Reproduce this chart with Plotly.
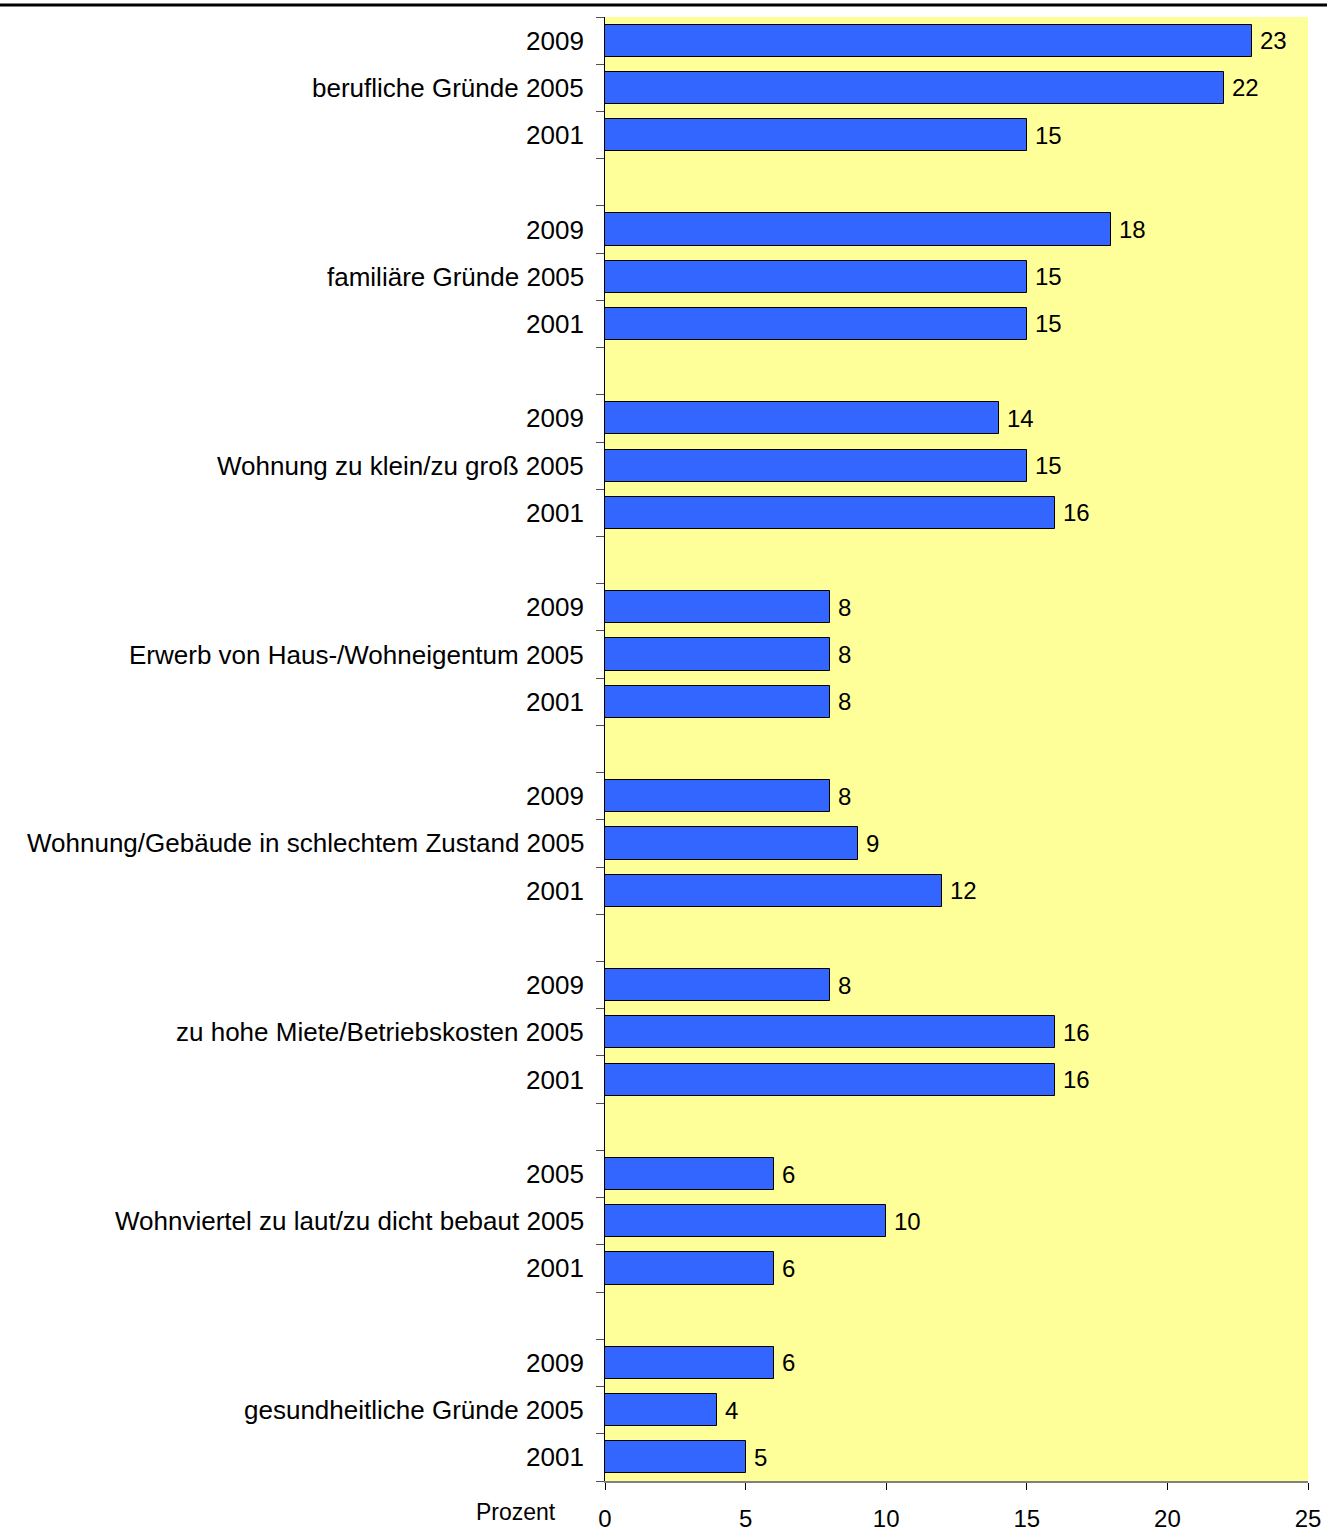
import plotly.graph_objects as go

# Reasons for moving, three survey years per reason (top bar first)
reasons = [
    "berufliche Gründe",
    "familiäre Gründe",
    "Wohnung zu klein/zu groß",
    "Erwerb von Haus-/Wohneigentum",
    "Wohnung/Gebäude in schlechtem Zustand",
    "zu hohe Miete/Betriebskosten",
    "Wohnviertel zu laut/zu dicht bebaut",
    "gesundheitliche Gründe",
]
year_labels = [
    ["2009", "2005", "2001"],
    ["2009", "2005", "2001"],
    ["2009", "2005", "2001"],
    ["2009", "2005", "2001"],
    ["2009", "2005", "2001"],
    ["2009", "2005", "2001"],
    ["2005", "2005", "2001"],
    ["2009", "2005", "2001"],
]
values = [
    [23, 22, 15],
    [18, 15, 15],
    [14, 15, 16],
    [8, 8, 8],
    [8, 9, 12],
    [8, 16, 16],
    [6, 10, 6],
    [6, 4, 5],
]
x_ticks = [0, 5, 10, 15, 20, 25]
axis_title = "Prozent"

W, H = 1327, 1533
ML, MR, MT, MB = 605, 19, 17, 52
FONT = "Liberation Sans, Arial, sans-serif"
FS_CAT = 26
FS_NUM = 24

# flatten: each reason occupies 3 bar slots followed by one empty slot
ys, xs, labels = [], [], []
for g, reason in enumerate(reasons):
    for j in range(3):
        ys.append(4 * g + j)
        xs.append(values[g][j])
        lab = year_labels[g][j]
        if j == 1:
            lab = f"{reason} {lab}"
        labels.append(lab)

n_slots = 4 * len(reasons) - 1
boundaries = [k - 0.5 for k in range(n_slots + 1)]

fig = go.Figure()
fig.add_trace(go.Bar(
    x=xs, y=ys, orientation="h", width=0.68,
    marker=dict(color="#3366FF", line=dict(color="#000000", width=1)),
    hoverinfo="x+y", showlegend=False,
))

annotations = []
for y, x, lab in zip(ys, xs, labels):
    annotations.append(dict(
        x=0, xref="paper", y=y, yref="y", text=lab, showarrow=False,
        xanchor="right", yanchor="middle", xshift=-19,
        font=dict(family=FONT, size=FS_CAT, color="#000000"),
    ))
    annotations.append(dict(
        x=x, xref="x", y=y, yref="y", text=str(x), showarrow=False,
        xanchor="left", yanchor="middle", xshift=6,
        font=dict(family=FONT, size=FS_NUM, color="#000000"),
    ))

plot_w = W - ML - MR
plot_h = H - MT - MB
annotations.append(dict(
    x=(558 - ML) / plot_w, xref="paper", y=-(1512 - (H - MB)) / plot_h, yref="paper",
    text=axis_title, showarrow=False, xanchor="right", yanchor="middle",
    font=dict(family=FONT, size=23, color="#000000"),
))

# heavy rule across the top of the page
line_y = 1 + (MT - 5) / plot_h
shapes = [dict(
    type="line", xref="paper", yref="paper",
    x0=-ML / plot_w, x1=1 + MR / plot_w, y0=line_y, y1=line_y,
    line=dict(color="#000000", width=3),
)]

fig.update_layout(
    width=W, height=H,
    margin=dict(l=ML, r=MR, t=MT, b=MB, pad=0),
    paper_bgcolor="#FFFFFF", plot_bgcolor="#FFFF99",
    font=dict(family=FONT, size=FS_NUM, color="#000000"),
    annotations=annotations, shapes=shapes,
    bargap=0,
)
fig.update_xaxes(
    range=[0, 25], tickvals=x_ticks, ticktext=[str(t) for t in x_ticks],
    showgrid=False, zeroline=False, showline=True, linecolor="#808080", linewidth=2,
    ticks="outside", ticklen=7, tickcolor="#000000", tickwidth=1,
    ticklabelstandoff=8, tickfont=dict(family=FONT, size=FS_NUM),
    automargin=False,
)
fig.update_yaxes(
    range=[n_slots - 0.5, -0.5], tickvals=boundaries, showticklabels=False,
    showgrid=False, zeroline=False, showline=True, linecolor="#000000", linewidth=1,
    ticks="outside", ticklen=8, tickcolor="#505050", tickwidth=1,
    automargin=False,
)

fig.write_html("out.html")
